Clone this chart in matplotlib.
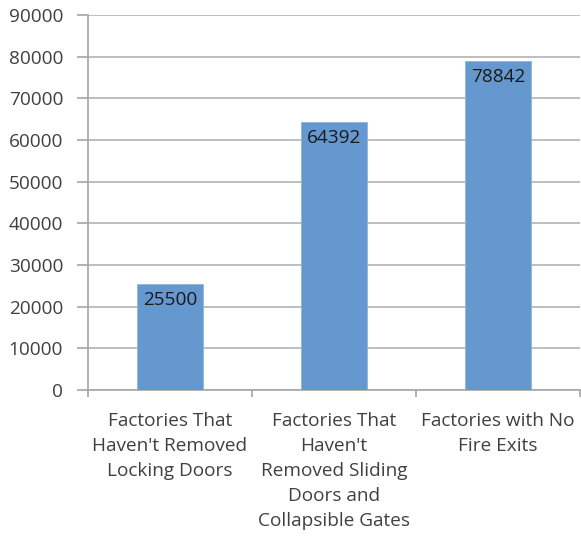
import matplotlib
matplotlib.use("Agg")
import matplotlib.pyplot as plt
from matplotlib.ticker import MultipleLocator

categories = ["Factories That\nHaven't Removed\nLocking Doors",
              "Factories That\nHaven't\nRemoved Sliding\nDoors and\nCollapsible Gates",
              "Factories with No\nFire Exits"]
values = [25500, 64392, 78842]
labels = ["25500", "64392", "78842"]

plt.rcParams['font.family'] = ['Open Sans', 'DejaVu Sans']

fig = plt.figure(figsize=(5.81, 5.36), dpi=100)
ax = fig.add_axes([88/581, 1-390/536, 492/581, 375/536])

x = list(range(len(values)))
bars = ax.bar(x, values, width=0.4, color='#6598CE', edgecolor='#8FB4DD', linewidth=0.6, zorder=3)

ax.set_xlim(-0.5, 2.5)
ax.set_ylim(0, 90000)
ax.yaxis.set_major_locator(MultipleLocator(10000))
ax.grid(axis='y', color='#B3B3B3', linewidth=1.2, zorder=0)
ax.set_axisbelow(True)

for s in ['top', 'right']:
    ax.spines[s].set_visible(False)
for s in ['left', 'bottom']:
    ax.spines[s].set_color('#A6A6A6')
    ax.spines[s].set_linewidth(1.2)

ax.tick_params(axis='y', length=8, width=1.2, color='#A6A6A6', labelcolor='#404040',
               labelsize=13.7, pad=10)
ax.set_yticks(range(0, 90001, 10000))
ax.set_yticklabels([str(v) for v in range(0, 90001, 10000)])

ax.set_xticks([-0.5, 0.5, 1.5, 2.5])
ax.set_xticklabels([])
ax.tick_params(axis='x', length=5, width=1.2, color='#A6A6A6', direction='out')
for i, c in enumerate(categories):
    ax.annotate(c, xy=(i, 0), xycoords=('data', 'axes fraction'), xytext=(0, -16),
                textcoords='offset points', ha='center', va='top', fontsize=13.7,
                color='#404040', linespacing=1.49)

for i, (v, l) in enumerate(zip(values, labels)):
    ax.annotate(l, xy=(i, v), xytext=(0, -5), textcoords='offset points',
                ha='center', va='top', fontsize=13.7, color='#1a1a1a', zorder=4)

fig.savefig('out.png', dpi=100)
